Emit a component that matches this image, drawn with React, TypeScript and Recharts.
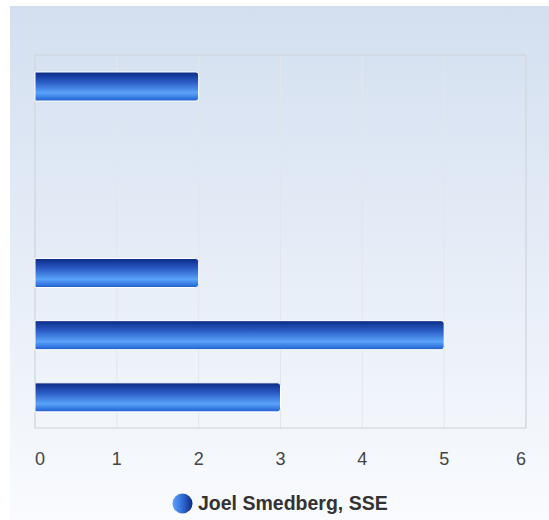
import React from "react";
import { BarChart, Bar, XAxis, YAxis, CartesianGrid, ReferenceArea } from "recharts";

const categories = ["A", "B", "C", "D", "E", "F"];
const values = [2, 0, 0, 2, 5, 3];
const xTicks = [0, 1, 2, 3, 4, 5, 6];
const seriesName = "Joel Smedberg, SSE";

const data = categories.map((name, i) => ({ name, value: values[i] }));

const W = 539;
const H = 514;

function Tick(props: any) {
  const { x, y, payload, index } = props;
  const anchor = index === 0 ? "start" : index === xTicks.length - 1 ? "end" : "middle";
  return (
    <text x={x} y={y + 36.5} textAnchor={anchor} fill="#444" fontSize={18} fontFamily="'Liberation Sans', Arial, sans-serif">
      {payload.value}
    </text>
  );
}

export default function App() {
  return (
    <div
      style={{
        position: "absolute",
        left: 10,
        top: 6,
        width: W,
        height: H,
        background: "linear-gradient(to bottom, #d3dff0 0%, #e6edf7 50%, #f9fbfe 100%)",
      }}
    >
      <BarChart
        width={W}
        height={H}
        data={data}
        layout="vertical"
        barCategoryGap={0}
        margin={{ top: 49, right: 23, bottom: 0, left: 25 }}
      >
        <defs>
          <linearGradient id="barFill" x1="0" y1="0" x2="0" y2="1">
            <stop offset="0%" stopColor="#0a2a86" />
            <stop offset="35%" stopColor="#2b5cc6" />
            <stop offset="72%" stopColor="#5aa3fa" />
            <stop offset="100%" stopColor="#1e5ed0" />
          </linearGradient>
        </defs>
        <CartesianGrid horizontal={false} stroke="#e2e6ec" strokeWidth={1} />
        <XAxis
          type="number"
          domain={[0, 6]}
          ticks={xTicks}
          axisLine={false}
          tickLine={false}
          tickSize={0}
          tickMargin={0}
          height={92}
          tick={<Tick />}
          interval={0}
        />
        <YAxis type="category" dataKey="name" hide />
        <ReferenceArea x1={0} x2={6} stroke="#cdd2d9" strokeWidth={1} fill="none" fillOpacity={0} ifOverflow="extendDomain" />
        <Bar
          dataKey="value"
          name={seriesName}
          barSize={29}
          fill="url(#barFill)"
          stroke="#ffffff"
          strokeWidth={1}
          radius={[0, 3, 3, 0]}
          isAnimationActive={false}
        />
      </BarChart>
      <div
        style={{
          position: "absolute",
          left: 162,
          top: 486,
          display: "flex",
          alignItems: "center",
          fontFamily: "'Liberation Sans', Arial, sans-serif",
          fontWeight: "bold",
          fontSize: 19.5,
          color: "#333",
          whiteSpace: "nowrap",
        }}
      >
        <svg width={21} height={21} style={{ marginRight: 5 }}>
          <defs>
            <linearGradient id="legFill" x1="0" y1="0" x2="1" y2="0">
              <stop offset="0%" stopColor="#5aa3fa" />
              <stop offset="40%" stopColor="#3a78e0" />
              <stop offset="100%" stopColor="#0a2a86" />
            </linearGradient>
          </defs>
          <circle cx={10.5} cy={10.5} r={10} fill="url(#legFill)" />
        </svg>
        <span>{seriesName}</span>
      </div>
    </div>
  );
}
